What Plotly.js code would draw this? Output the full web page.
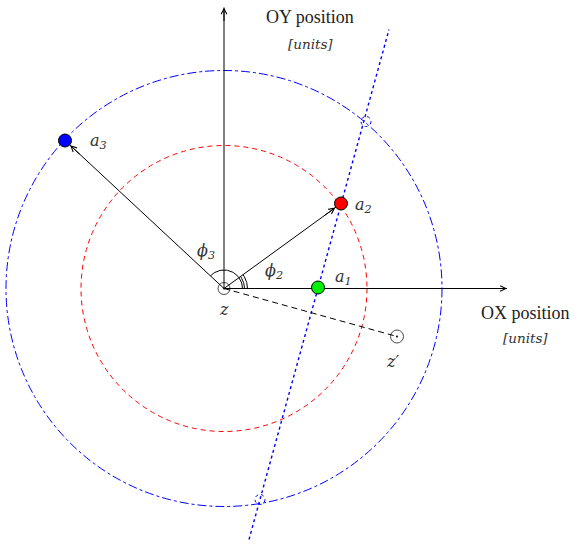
<!DOCTYPE html>
<html>
<head>
<meta charset="utf-8">
<script src="https://cdn.plot.ly/plotly-3.0.1.min.js"></script>
<style>html,body{margin:0;padding:0;background:#fff}#chart{width:574px;height:548px}</style>
</head>
<body>
<div id="chart"></div>
<script>
// ---- data (units relative to origin z, y up) ----
const pointNames = ['a<sub>1</sub>', 'a<sub>2</sub>', 'a<sub>3</sub>'];
const pointX = [94, 117, -159];
const pointY = [1, 85, 148];
const circleRadii = [143, 218];
const zPrimeX = [173];
const zPrimeY = [-48];
const bisectorX = [25, 165];
const bisectorY = [-251, 259];
const crossX = [142, 36];
const crossY = [167, -211];
const axisOXEnd = [283, 0];
const axisOYEnd = [0, 281];
const labelTexts = ['\u03D5<sub>3</sub>', '\u03D5<sub>2</sub>', 'z', 'z\u2032'];
const labelX = [-18, 50, 0, 168];
const labelY = [37, 17, -21, -73];
const axisTitles = ['OY position', 'OX position'];
const axisUnits = ['[units]', '[units]'];
const axisTitleX = [86, 301];
const axisTitleY = [272, -24];
const axisUnitY = [245, -49];
const pointLabelX = [119, 139, -126];
const pointLabelY = [11, 83, 147];

const serif = 'Liberation Serif, Times New Roman, serif';
const mathFont = 'DejaVu Serif, serif';
const traces = [];
const shapes = [];
const annotations = [];

// big circles
const circleStyles = [
  {color: '#ff0000', dash: '5px,4px'},
  {color: '#0000ff', dash: 'dashdot'}
];
circleRadii.forEach((r, i) => {
  shapes.push({type: 'circle', xref: 'x', yref: 'y', x0: -r, x1: r, y0: -r, y1: r,
    line: {color: circleStyles[i].color, width: 1, dash: circleStyles[i].dash}, layer: 'below'});
});

// perpendicular bisector line (dotted blue)
traces.push({x: bisectorX, y: bisectorY, mode: 'lines', line: {color: '#0000ff', width: 1.4, dash: 'dot'}, hoverinfo: 'skip'});

// small dotted circles at intersections
crossX.forEach((cx, i) => {
  const cy = crossY[i];
  shapes.push({type: 'circle', xref: 'x', yref: 'y', x0: cx - 5, x1: cx + 5, y0: cy - 5, y1: cy + 5,
    line: {color: '#0000ff', width: 1, dash: 'dot'}});
});

// OX axis line
traces.push({x: [0, axisOXEnd[0]], y: [0, axisOXEnd[1]], mode: 'lines', line: {color: '#000', width: 1}, hoverinfo: 'skip'});
// OY axis line
traces.push({x: [0, axisOYEnd[0]], y: [0, axisOYEnd[1]], mode: 'lines', line: {color: '#000', width: 1}, hoverinfo: 'skip'});
// dashed z - z'
traces.push({x: [0, zPrimeX[0]], y: [0, zPrimeY[0]], mode: 'lines', line: {color: '#000', width: 1, dash: '6px,4px'}, hoverinfo: 'skip'});
// vectors to a2, a3
[1, 2].forEach(i => {
  traces.push({x: [0, pointX[i]], y: [0, pointY[i]], mode: 'lines', line: {color: '#000', width: 1}, hoverinfo: 'skip'});
});

// angle arcs
function arc(r, a1, a2) {
  const xs = [], ys = [];
  const n = 40;
  for (let k = 0; k <= n; k++) {
    const t = a1 + (a2 - a1) * k / n;
    xs.push(r * Math.cos(t)); ys.push(r * Math.sin(t));
  }
  return {x: xs, y: ys, mode: 'lines', line: {color: '#000', width: 1}, hoverinfo: 'skip'};
}
const ang2 = Math.atan2(pointY[1], pointX[1]);
const ang3 = Math.atan2(pointY[2], pointX[2]);
traces.push(arc(18.5, 0, ang3));
traces.push(arc(20.5, 0, ang2));
traces.push(arc(23.5, 0, ang2));

// points
traces.push({x: pointX, y: pointY, mode: 'markers',
  marker: {size: 13, color: ['#00ee00', '#ff0000', '#0000ff'], line: {color: '#000', width: 1}}, hoverinfo: 'skip'});

// z and z' small open circles with centre dots
traces.push({x: [0, zPrimeX[0]], y: [0, zPrimeY[0]], mode: 'markers',
  marker: {size: [12, 13], symbol: 'circle-open', color: '#000', line: {width: 1}}, hoverinfo: 'skip'});
traces.push({x: [0, zPrimeX[0]], y: [0, zPrimeY[0]], mode: 'markers', marker: {size: 2, color: '#000'}, hoverinfo: 'skip'});

// arrowheads
function arrowHead(tx, ty, fx, fy) {
  annotations.push({x: tx, y: ty, ax: fx, ay: fy, xref: 'x', yref: 'y', axref: 'x', ayref: 'y',
    showarrow: true, arrowhead: 5, arrowsize: 1.1, arrowwidth: 1, arrowcolor: '#000', text: ''});
}
arrowHead(axisOXEnd[0], axisOXEnd[1], axisOXEnd[0] - 15, axisOXEnd[1]);
arrowHead(axisOYEnd[0], axisOYEnd[1], axisOYEnd[0], axisOYEnd[1] - 15);
[1, 2].forEach(i => {
  const dx = pointX[i], dy = pointY[i];
  const L = Math.hypot(dx, dy);
  arrowHead(pointX[i] - dx / L * 7, pointY[i] - dy / L * 7, pointX[i] - dx / L * 22, pointY[i] - dy / L * 22);
});

// point labels
pointNames.forEach((t, i) => {
  annotations.push({x: pointLabelX[i], y: pointLabelY[i], xref: 'x', yref: 'y', text: '<i>' + t + '</i>', showarrow: false,
    font: {family: mathFont, size: 16, color: '#333'}});
});
labelTexts.forEach((t, i) => {
  annotations.push({x: labelX[i], y: labelY[i], xref: 'x', yref: 'y', text: '<i>' + t + '</i>', showarrow: false,
    font: {family: mathFont, size: 16, color: '#333'}});
});
axisTitles.forEach((t, i) => {
  annotations.push({x: axisTitleX[i], y: axisTitleY[i], xref: 'x', yref: 'y', text: t, showarrow: false,
    font: {family: serif, size: 18, color: '#222'}});
  annotations.push({x: axisTitleX[i], y: axisUnitY[i], xref: 'x', yref: 'y', text: '<i>' + axisUnits[i] + '</i>', showarrow: false,
    font: {family: mathFont, size: 13.5, color: '#333'}});
});

const layout = {
  width: 574, height: 548,
  margin: {l: 0, r: 0, t: 0, b: 0, pad: 0},
  paper_bgcolor: '#fff', plot_bgcolor: '#fff',
  showlegend: false,
  xaxis: {range: [-224, 350], visible: false, fixedrange: true},
  yaxis: {range: [-259.5, 288.5], visible: false, fixedrange: true},
  shapes: shapes,
  annotations: annotations
};
Plotly.newPlot('chart', traces, layout, {staticPlot: true, displayModeBar: false});
</script>
</body>
</html>
